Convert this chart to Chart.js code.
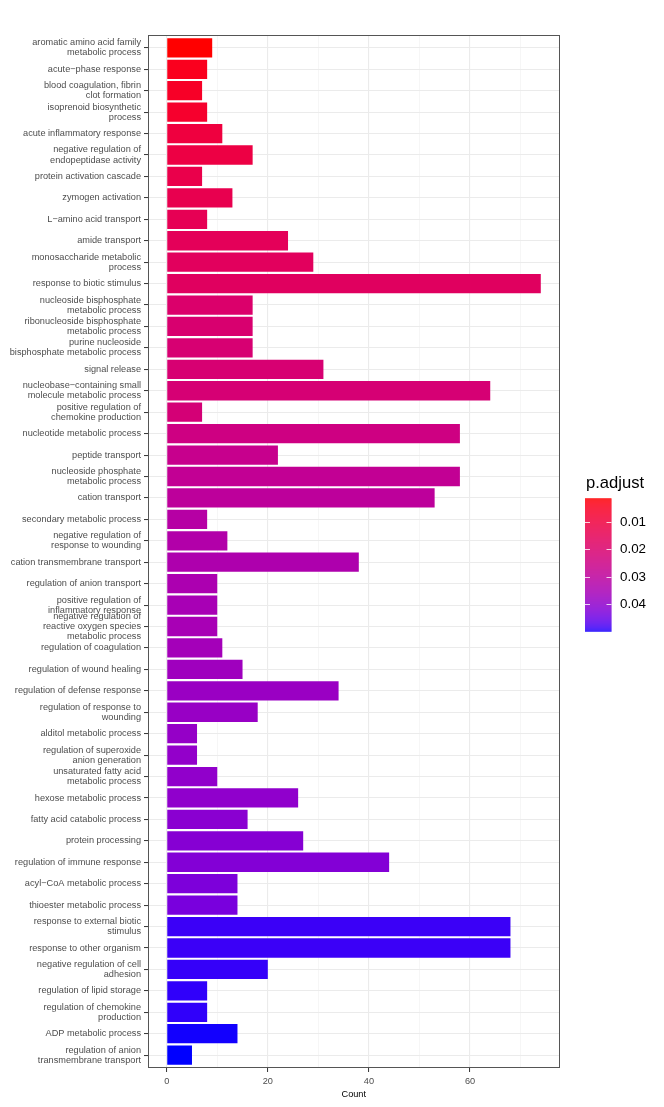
<!DOCTYPE html>
<html>
<head>
<meta charset="utf-8">
<script src="https://cdn.jsdelivr.net/npm/chart.js@4.4.0/dist/chart.umd.min.js"></script>
<style>
html,body{margin:0;padding:0;background:#ffffff;}
#wrap{width:664px;height:1107px;position:relative;}
</style>
</head>
<body>
<div id="wrap"><canvas id="c" width="664" height="1107"></canvas></div>
<script>
// ---------------- DATA ----------------
const categories = [
  "aromatic amino acid family\nmetabolic process",
  "acute\u2212phase response",
  "blood coagulation, fibrin\nclot formation",
  "isoprenoid biosynthetic\nprocess",
  "acute inflammatory response",
  "negative regulation of\nendopeptidase activity",
  "protein activation cascade",
  "zymogen activation",
  "L\u2212amino acid transport",
  "amide transport",
  "monosaccharide metabolic\nprocess",
  "response to biotic stimulus",
  "nucleoside bisphosphate\nmetabolic process",
  "ribonucleoside bisphosphate\nmetabolic process",
  "purine nucleoside\nbisphosphate metabolic process",
  "signal release",
  "nucleobase\u2212containing small\nmolecule metabolic process",
  "positive regulation of\nchemokine production",
  "nucleotide metabolic process",
  "peptide transport",
  "nucleoside phosphate\nmetabolic process",
  "cation transport",
  "secondary metabolic process",
  "negative regulation of\nresponse to wounding",
  "cation transmembrane transport",
  "regulation of anion transport",
  "positive regulation of\ninflammatory response",
  "negative regulation of\nreactive oxygen species\nmetabolic process",
  "regulation of coagulation",
  "regulation of wound healing",
  "regulation of defense response",
  "regulation of response to\nwounding",
  "alditol metabolic process",
  "regulation of superoxide\nanion generation",
  "unsaturated fatty acid\nmetabolic process",
  "hexose metabolic process",
  "fatty acid catabolic process",
  "protein processing",
  "regulation of immune response",
  "acyl\u2212CoA metabolic process",
  "thioester metabolic process",
  "response to external biotic\nstimulus",
  "response to other organism",
  "negative regulation of cell\nadhesion",
  "regulation of lipid storage",
  "regulation of chemokine\nproduction",
  "ADP metabolic process",
  "regulation of anion\ntransmembrane transport"
];
const counts = [
  9, 8, 7, 8, 11, 17, 7, 13, 8, 24,
  29, 74, 17, 17, 17, 31, 64, 7, 58, 22,
  58, 53, 8, 12, 38, 10, 10, 10, 11, 15,
  34, 18, 6, 6, 10, 26, 16, 27, 44, 14,
  14, 68, 68, 20, 8, 8, 14, 5
];
const pAdjust = [
  0.0015, 0.0044, 0.0059, 0.0068, 0.0102, 0.0112, 0.0127, 0.0136, 0.0146, 0.0156,
  0.0165, 0.0170, 0.0194, 0.0204, 0.0209, 0.0209, 0.0214, 0.0219, 0.0243, 0.0267,
  0.0282, 0.0296, 0.0316, 0.0325, 0.0335, 0.0340, 0.0350, 0.0350, 0.0359, 0.0369,
  0.0379, 0.0384, 0.0388, 0.0393, 0.0396, 0.0398, 0.0408, 0.0413, 0.0418, 0.0427,
  0.0432, 0.0485, 0.0485, 0.0488, 0.0490, 0.0490, 0.0498, 0.0500
];
const xTickValues = [0, 10, 20, 30, 40, 50, 60, 70];
const xTickLabels = ["0", "", "20", "", "40", "", "60", ""];
const xTitle = "Count";
const legendTitle = "p.adjust";
const legendTicks = [0.01, 0.02, 0.03, 0.04];
const legendTickLabels = ["0.01", "0.02", "0.03", "0.04"];
const lowColor = [255, 0, 0];
const highColor = [0, 0, 255];

// ---------------- COLOR (Lab interpolation like ggplot) ----------------
function s2l(c){c/=255;return c<=0.04045?c/12.92:Math.pow((c+0.055)/1.055,2.4);}
function l2s(v){v=v<=0.0031308?12.92*v:1.055*Math.pow(Math.max(v,0),1/2.4)-0.055;return Math.round(Math.max(0,Math.min(1,v))*255);}
function rgbToLab(c){
  const R=s2l(c[0]),G=s2l(c[1]),B=s2l(c[2]);
  const X=(0.4124*R+0.3576*G+0.1805*B)/0.95047,Y=0.2126*R+0.7152*G+0.0722*B,Z=(0.0193*R+0.1192*G+0.9505*B)/1.08883;
  const f=t=>t>0.008856?Math.cbrt(t):(7.787*t+16/116);
  const fx=f(X),fy=f(Y),fz=f(Z);
  return [116*fy-16,500*(fx-fy),200*(fy-fz)];
}
function labToRgb(l){
  const fy=(l[0]+16)/116,fx=fy+l[1]/500,fz=fy-l[2]/200;
  const fi=t=>t>0.206893?t*t*t:(t-16/116)/7.787;
  const X=fi(fx)*0.95047,Y=fi(fy),Z=fi(fz)*1.08883;
  return [l2s(3.2406*X-1.5372*Y-0.4986*Z),l2s(-0.9689*X+1.8758*Y+0.0415*Z),l2s(0.0557*X-0.2040*Y+1.0570*Z)];
}
const labLow=rgbToLab(lowColor), labHigh=rgbToLab(highColor);
const pMin=Math.min(...pAdjust), pMax=Math.max(...pAdjust);
function colorFor(p){
  const t=Math.max(0,Math.min(1,(p-pMin)/(pMax-pMin)));
  const c=labToRgb([0,1,2].map(k=>labLow[k]+(labHigh[k]-labLow[k])*t));
  return 'rgb('+c[0]+','+c[1]+','+c[2]+')';
}

// ---------------- CHART ----------------
const FONT = "'Liberation Sans', Arial, Helvetica, sans-serif";

const bgPlugin = {
  id:'bg',
  beforeDraw(chart){
    const ctx=chart.ctx; ctx.save(); ctx.fillStyle='#ffffff';
    ctx.fillRect(0,0,chart.width,chart.height); ctx.restore();
  }
};

const framePlugin = {
  id:'frame',
  afterDraw(chart){
    const {ctx, chartArea:a} = chart;
    ctx.save();
    ctx.strokeStyle='#555555'; ctx.lineWidth=1;
    ctx.strokeRect(Math.round(a.left)+0.5, Math.round(a.top)+0.5, Math.round(a.right-a.left)-1, Math.round(a.bottom-a.top)-1);
    ctx.restore();

    // colorbar legend
    const barX=585, barW=26.5, barTop=498.3, barBot=631.7;
    ctx.save();
    const n=Math.ceil(barBot-barTop);
    for(let i=0;i<n;i++){
      const p=pMin+(pMax-pMin)*(i+0.5)/n;
      ctx.fillStyle=colorFor(p);
      ctx.fillRect(barX, barTop+i, barW, Math.min(1.2, barBot-barTop-i));
    }
    ctx.strokeStyle='rgba(255,255,255,0.8)'; ctx.lineWidth=1;
    ctx.font="13.4px "+FONT; ctx.fillStyle='#000000'; ctx.textBaseline='middle'; ctx.textAlign='left';
    legendTicks.forEach((v,i)=>{
      const y=barTop+(v-pMin)/(pMax-pMin)*(barBot-barTop);
      const yy=Math.round(y)+0.5;
      ctx.beginPath(); ctx.moveTo(barX,yy); ctx.lineTo(barX+5,yy);
      ctx.moveTo(barX+barW-5,yy); ctx.lineTo(barX+barW,yy); ctx.stroke();
      ctx.fillText(legendTickLabels[i], 620, y+0.5);
    });
    ctx.font="16.6px "+FONT; ctx.textBaseline='middle';
    ctx.fillText(legendTitle, 586, 483.5);
    ctx.restore();
  }
};

new Chart(document.getElementById('c'), {
  type:'bar',
  data:{
    datasets:[{
      data: counts.map((c,i)=>({x:c, y:i})),
      backgroundColor: pAdjust.map(colorFor),
      borderWidth:0,
      barPercentage:0.9,
      categoryPercentage:1.0
    }]
  },
  options:{
    indexAxis:'y',
    responsive:false,
    animation:false,
    events:[],
    layout:{padding:{left:0,right:104.5,top:35,bottom:0}},
    plugins:{legend:{display:false},tooltip:{enabled:false},title:{display:false}},
    scales:{
      x:{
        type:'linear', position:'bottom', bounds:'data', offset:false,
        min:-3.7, max:77.7,
        afterBuildTicks:s=>{ s.ticks = xTickValues.map(v=>({value:v})); },
        afterFit:s=>{ s.height = 39; },
        ticks:{
          autoSkip:false, maxRotation:0, padding:4,
          callback:(v)=>{ const k=xTickValues.indexOf(v); return k>=0?xTickLabels[k]:''; },
          color:'#4D4D4D', font:{family:FONT,size:9.2}
        },
        grid:{
          offset:false,
          color:c=>(c.tick && c.tick.value%20===0)?'#EBEBEB':'#F2F2F2',
          lineWidth:c=>(c.tick && c.tick.value%20===0)?1.1:0.7,
          tickColor:c=>(c.tick && c.tick.value%20===0)?'#333333':'rgba(0,0,0,0)',
          tickWidth:1,
          tickLength:4
        },
        border:{display:false},
        title:{display:true, text:xTitle, color:'#000000', font:{family:FONT,size:9.2}, padding:{top:0,bottom:7}}
      },
      y:{
        type:'linear', position:'left', reverse:true, bounds:'data', offset:false,
        min:-0.6, max:categories.length-1+0.6,
        afterBuildTicks:s=>{ s.ticks = categories.map((_,i)=>({value:i})); },
        afterFit:s=>{ s.width = 148; },
        ticks:{
          autoSkip:false, maxRotation:0, padding:3,
          callback:(v)=>{ const lab=categories[v]; return lab?lab.split('\n'):''; },
          color:'#4D4D4D', font:{family:FONT,size:9.2,lineHeight:1.1}
        },
        grid:{offset:false, color:'#EBEBEB', lineWidth:1.1, tickColor:'#333333', tickWidth:1, tickLength:4},
        border:{display:false}
      }
    }
  },
  plugins:[bgPlugin, framePlugin]
});
</script>
</body>
</html>
